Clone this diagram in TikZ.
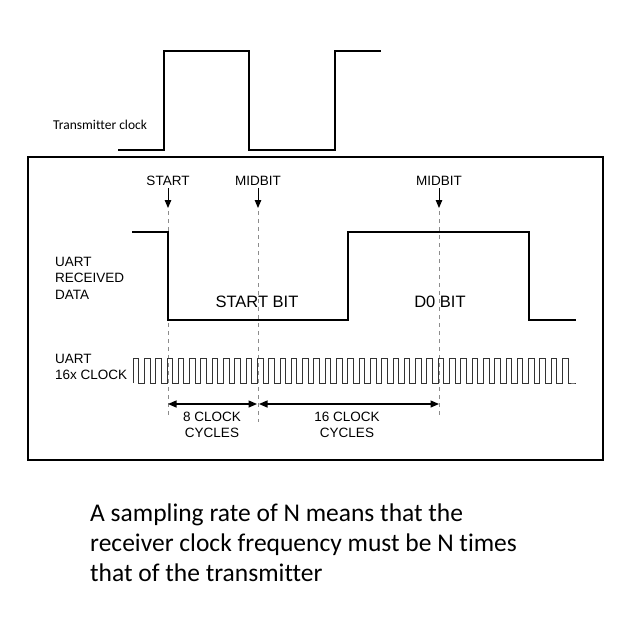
\documentclass[tikz,border=0pt]{standalone}
\usepackage{fontspec}
\setmainfont{Liberation Sans}
\newfontfamily\calibri[Ligatures=NoCommon]{Carlito}
\usetikzlibrary{arrows.meta}

\tikzset{
  lbl/.style={inner sep=0pt, font=\fontsize{13.5}{16.5}\selectfont},
  bitlbl/.style={inner sep=0pt, font=\fontsize{16.5}{18}\selectfont},
  wave/.style={line width=2pt, line join=miter},
  txwave/.style={line width=2.6pt, line join=miter},
  clkwave/.style={line width=0.8pt, black!80},
  guide/.style={black!45, line width=0.9pt, dash pattern=on 4pt off 4pt},
  markarrow/.style={line width=1pt, -{Triangle[length=8pt,width=6.5pt]}},
  dimarrow/.style={line width=1.3pt, {Triangle[length=8.5pt,width=7pt]}-{Triangle[length=8.5pt,width=7pt]}}
}

\begin{document}
\begin{tikzpicture}[x=1pt,y=1pt,yscale=-1]
%set diagram to the size of the reference
\fill[white] (0,0) rectangle (643,635);
\useasboundingbox (0,0) rectangle (643,635);

%Transmitter clock
\draw [txwave] (118,150) -- (164,150) -- (164,51) -- (249,51) -- (249,150) -- (335,150) -- (335,51) -- (381,51) ;
% Text Node
\node [anchor=west, inner sep=0pt, font=\calibri\fontsize{13.5}{15}\selectfont] (txlbl) at (53,125) {Transmitter clock};

%Shape: Rectangle
\draw [line width=1.2pt] (28,157) -- (603,157) -- (603,460) -- (28,460) -- cycle ;

% Text Node
\node [lbl] (start) at (168,181) {START};
\node [lbl] (midA) at (258,181) {MIDBIT};
\node [lbl] (midB) at (439,181) {MIDBIT};

\coordinate (startT) at (168,208);
\coordinate (midAT) at (258,208);
\coordinate (midBT) at (439,208);
\coordinate (startB) at (168,415);
\coordinate (midAB) at (258,422);
\coordinate (midBB) at (439,415);

%Straight Lines
\draw [markarrow] ([yshift=2pt]start.south) -- (startT) ;
\draw [markarrow] ([yshift=2pt]midA.south) -- (midAT) ;
\draw [markarrow] ([yshift=2pt]midB.south) -- (midBT) ;

%Dashed Lines
\draw [guide] ([yshift=3pt]startT) -- (startB) ;
\draw [guide] ([yshift=3pt]midAT) -- (midAB) ;
\draw [guide] ([yshift=3pt]midBT) -- (midBB) ;

%UART received data
\draw [wave] (132,232) -- (168,232) -- (168,320) -- (348,320) -- (348,232) -- (529,232) -- (529,320) -- (576,320) ;
% Text Node
\node [lbl, anchor=west, align=left] (rxlbl) at (55,278) {UART\\RECEIVED\\DATA};
\node [bitlbl] (startbit) at (257,302) {START BIT};
\node [bitlbl] (dbit) at (440,302) {D0 BIT};

%UART 16x clock
\draw [clkwave] (133,383) \foreach \i in {0,...,38} { -- ++(0,-25) -- ++(5.65,0) -- ++(0,25) -- ++(5.65,0) } -- (576,383) ;
% Text Node
\node [lbl, anchor=west, align=left] (clklbl) at (55,367) {UART\\16x CLOCK};

%Dimension arrows
\coordinate (dimA) at (168,404);
\coordinate (dimB) at (257,404);
\coordinate (dimC) at (259,404);
\coordinate (dimD) at (439,404);
\draw [dimarrow] (dimA) -- (dimB) ;
\draw [dimarrow] (dimC) -- (dimD) ;
% Text Node
\node [lbl, align=center] (eight) at (212,425) {8 CLOCK\\CYCLES};
\node [lbl, align=center] (sixteen) at (347,425) {16 CLOCK\\CYCLES};

% Text Node
\node [anchor=north west, inner sep=0pt, align=left, font=\calibri\fontsize{25.5}{30}\selectfont] (note) at (90,504) {A sampling rate of N means that the\\receiver clock frequency must be N times\\that of the transmitter};

\end{tikzpicture}
\end{document}
